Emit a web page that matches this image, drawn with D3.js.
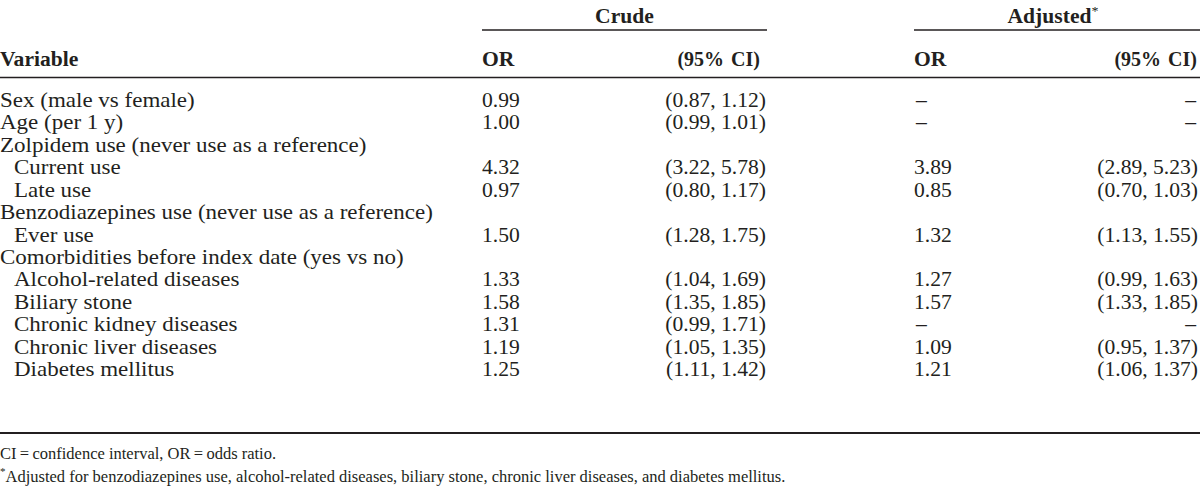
<!DOCTYPE html>
<html><head><meta charset="utf-8">
<script src="https://cdn.jsdelivr.net/npm/d3@7"></script>
<style>
html,body{margin:0;padding:0;background:#fff;}
svg{display:block;}
text{font-family:"Liberation Serif","Times New Roman",serif;fill:#231f20;}
</style></head>
<body><svg id="c" width="1200" height="490"></svg>
<script>
const variables = ["Sex (male vs female)","Age (per 1 y)","Zolpidem use (never use as a reference)","Current use","Late use","Benzodiazepines use (never use as a reference)","Ever use","Comorbidities before index date (yes vs no)","Alcohol-related diseases","Biliary stone","Chronic kidney diseases","Chronic liver diseases","Diabetes mellitus"];
const indented = [false,false,false,true,true,false,true,false,true,true,true,true,true];
const crudeOR = ["0.99","1.00","","4.32","0.97","","1.50","","1.33","1.58","1.31","1.19","1.25"];
const crudeCI = ["(0.87, 1.12)","(0.99, 1.01)","","(3.22, 5.78)","(0.80, 1.17)","","(1.28, 1.75)","","(1.04, 1.69)","(1.35, 1.85)","(0.99, 1.71)","(1.05, 1.35)","(1.11, 1.42)"];
const adjOR = ["–","–","","3.89","0.85","","1.32","","1.27","1.57","–","1.09","1.21"];
const adjCI = ["–","–","","(2.89, 5.23)","(0.70, 1.03)","","(1.13, 1.55)","","(0.99, 1.63)","(1.33, 1.85)","–","(0.95, 1.37)","(1.06, 1.37)"];
const groupHeaders = ["Crude","Adjusted"];
const colHeaders = ["Variable","OR","(95% CI)","OR","(95% CI)"];
const footnotes = ["CI\u2009=\u2009confidence interval, OR\u2009=\u2009odds ratio.","Adjusted for benzodiazepines use, alcohol-related diseases, biliary stone, chronic liver diseases, and diabetes mellitus."];

const svg = d3.select("#c");
const ink = "#231f20";
const fs = 20, sxLabel = 1.15, sxNum = 1.08, sxHead = 1.08;
const y = d3.scalePoint().domain(d3.range(variables.length)).range([107, 376]);
// column positions: variable, crude OR, crude CI (right edge), adjusted OR, adjusted CI (right edge)
const col = d3.scaleOrdinal().domain(["var","cOR","cCI","aOR","aCI"]).range([0,482,766,914,1198]);
const indentX = 14;

function txt(parent, x, yy, s, anchor, sx, opts={}) {
  const t = parent.append("text")
    .attr("transform", `translate(${x},${yy}) scale(${sx},1)`)
    .attr("text-anchor", anchor)
    .attr("font-size", opts.size || fs)
    .attr("font-weight", opts.bold ? "bold" : "normal")
    .text(s);
  return t;
}

// group headers and their rules
const groups = [{name:groupHeaders[0], x0:col("cOR"), x1:767, star:false},{name:groupHeaders[1], x0:col("aOR"), x1:1200, star:true}];
groups.forEach(g=>{
  svg.append("line").attr("x1",g.x0).attr("x2",g.x1).attr("y1",30).attr("y2",30).attr("stroke",ink).attr("stroke-width",1.3);
  const t = txt(svg, (g.x0+g.x1)/2 - (g.star?4:0), 23, g.name, "middle", sxHead, {bold:true});
  if(g.star) t.append("tspan").attr("font-weight","normal").attr("font-size",13).attr("dy",-8).text("*");
});

// column header row
const hy = 66;
function ciHead(xr, label) {
  const parts = label.split(" ");
  const t = txt(svg, xr, hy, "", "end", 1, {bold:true});
  t.append("tspan").text(parts[0]);
  t.append("tspan").attr("dx", 7).text(parts[1]);
}
txt(svg, col("var"), hy, colHeaders[0], "start", sxHead, {bold:true});
txt(svg, col("cOR"), hy, colHeaders[1], "start", sxHead, {bold:true});
ciHead(col("cCI")-6, colHeaders[2]);
txt(svg, col("aOR"), hy, colHeaders[3], "start", sxHead, {bold:true});
ciHead(col("aCI")-1, colHeaders[4]);
svg.append("line").attr("x1",0).attr("x2",1200).attr("y1",77.5).attr("y2",77.5).attr("stroke",ink).attr("stroke-width",1.6);

// body rows
const body = svg.append("g");
variables.forEach((v,i)=>{
  const yy = y(i);
  txt(body, indented[i]?indentX:col("var"), yy, v, "start", sxLabel);
  if (crudeOR[i]) txt(body, col("cOR"), yy, crudeOR[i], "start", sxNum);
  if (crudeCI[i]) txt(body, col("cCI"), yy, crudeCI[i], "end", sxNum);
  if (adjOR[i]) txt(body, col("aOR") + (adjOR[i]==="–"?2:0), yy, adjOR[i], "start", sxNum);
  if (adjCI[i]) txt(body, col("aCI") - (adjCI[i]==="–"?2:0), yy, adjCI[i], "end", sxNum);
});

svg.append("line").attr("x1",0).attr("x2",1200).attr("y1",433).attr("y2",433).attr("stroke",ink).attr("stroke-width",2);

// footnotes
txt(svg, 0, 459, footnotes[0], "start", 1, {size:16.5});
const f2 = txt(svg, 0, 482, "", "start", 1, {size:16.5});
f2.append("tspan").attr("font-size",11).attr("dy",-7).text("*");
f2.append("tspan").attr("dy",7).text(footnotes[1]);
</script></body></html>
